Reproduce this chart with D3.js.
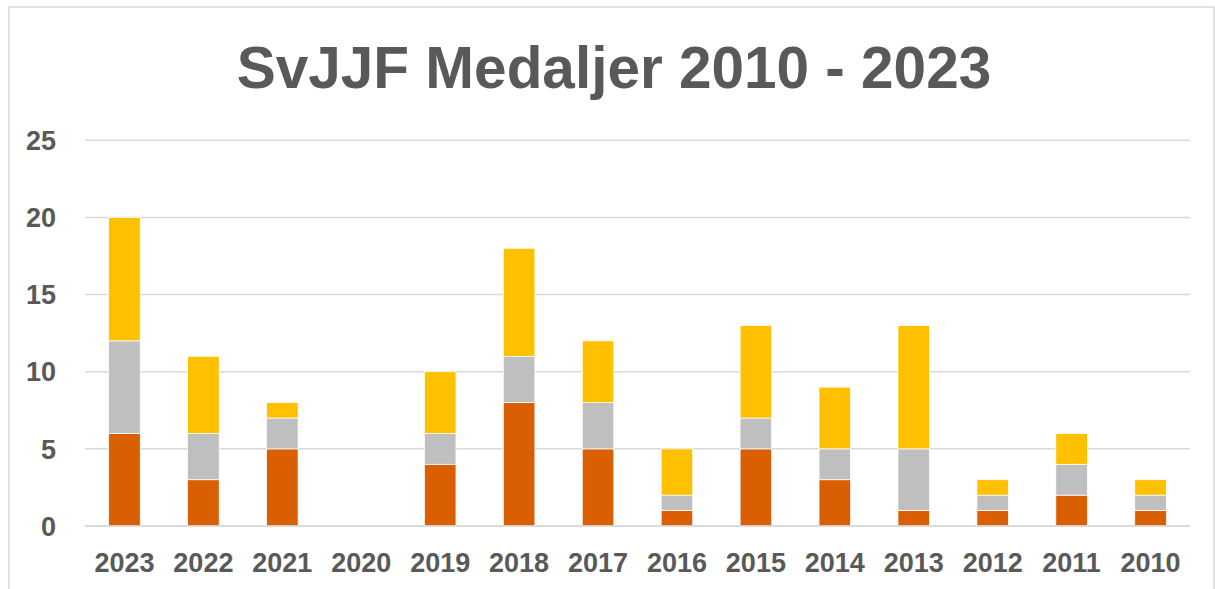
<!DOCTYPE html>
<html><head><meta charset="utf-8">
<script src="https://cdn.jsdelivr.net/npm/d3@7"></script>
<style>html,body{margin:0;padding:0;background:#fff;}svg{display:block;}</style>
</head><body>
<script>
const years = ["2023","2022","2021","2020","2019","2018","2017","2016","2015","2014","2013","2012","2011","2010"];
const bronze = [6,3,5,0,4,8,5,1,5,3,1,1,2,1];
const silver = [6,3,2,0,2,3,3,1,2,2,4,1,2,1];
const gold   = [8,5,1,0,4,7,4,3,6,4,8,1,2,1];
const yTicks = [0,5,10,15,20,25];
const title = "SvJJF Medaljer 2010 - 2023";

const W=1215,H=589;
const svg=d3.select("body").append("svg").attr("width",W).attr("height",H);
svg.append("rect").attr("x",9).attr("y",7).attr("width",1205).attr("height",600)
  .attr("fill","#fff").attr("stroke","#D9D9D9").attr("stroke-width",1.5);

const x=d3.scaleBand().domain(years).range([85,1190]).paddingInner(0.6).paddingOuter(0.3);
const y=d3.scaleLinear().domain([0,25]).range([526,140.3]);

const g=svg.append("g");
g.selectAll("line.grid").data(yTicks).join("line")
  .attr("x1",85).attr("x2",1190).attr("y1",d=>y(d)).attr("y2",d=>y(d))
  .attr("stroke","#D9D9D9").attr("stroke-width",1.5);

const rows=years.map((yr,i)=>({year:yr,bronze:bronze[i],silver:silver[i],gold:gold[i]}));
const stack=d3.stack().keys(["bronze","silver","gold"])(rows);
const colors={bronze:"#D95F02",silver:"#BFBFBF",gold:"#FFC000"};
stack.forEach(layer=>{
  g.selectAll(null).data(layer.filter(d=>d[1]>d[0])).join("rect")
   .attr("x",d=>x(d.data.year)).attr("width",x.bandwidth())
   .attr("y",d=>y(d[1])).attr("height",d=>y(d[0])-y(d[1]))
   .attr("fill",colors[layer.key]).attr("stroke","#fff").attr("stroke-width",0.75);
});
g.append("line").attr("x1",85).attr("x2",1190).attr("y1",y(0)).attr("y2",y(0))
  .attr("stroke","#D9D9D9").attr("stroke-width",1.5);

const font="'Liberation Sans', Arial, sans-serif";
svg.selectAll("text.yl").data(yTicks).join("text")
  .attr("x",56).attr("y",d=>y(d)+9.7).attr("text-anchor","end")
  .attr("font-family",font).attr("font-weight","bold").attr("font-size",27).attr("fill","#595959")
  .text(d=>d);
svg.selectAll("text.xl").data(years).join("text")
  .attr("x",d=>x(d)+x.bandwidth()/2).attr("y",572).attr("text-anchor","middle")
  .attr("font-family",font).attr("font-weight","bold").attr("font-size",27).attr("fill","#595959")
  .text(d=>d);
svg.append("text").attr("x",614).attr("y",88).attr("text-anchor","middle")
  .attr("font-family",font).attr("font-weight","bold").attr("font-size",58.5).attr("fill","#595959")
  .text(title);
</script>
</body></html>
